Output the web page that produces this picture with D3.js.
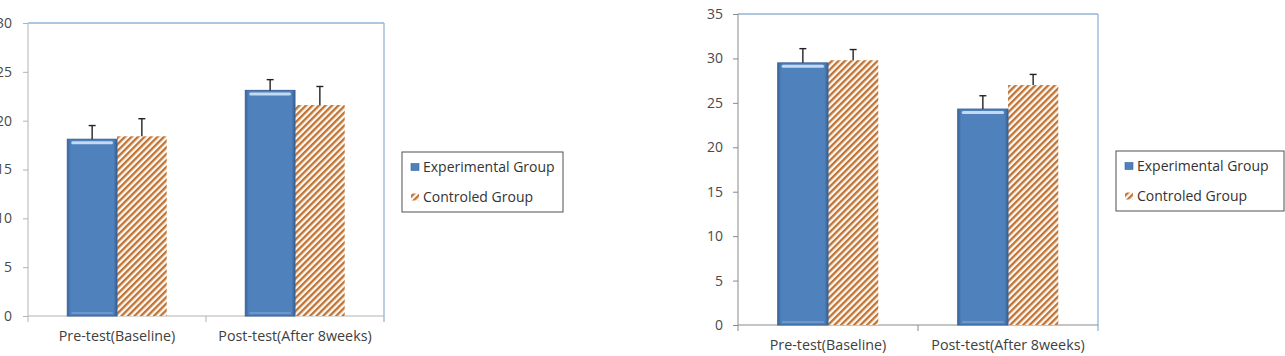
<!DOCTYPE html>
<html>
<head>
<meta charset="utf-8">
<script src="https://cdn.jsdelivr.net/npm/d3@7/dist/d3.min.js"></script>
<style>
  html, body { margin: 0; padding: 0; background: #fff; }
  svg { display: block; }
  text { font-family: "Open Sans", "Liberation Sans", sans-serif; }
</style>
</head>
<body>
<svg id="chart" width="1285" height="356"></svg>
<script>
// ---- data ----
const categories = ["Pre-test(Baseline)", "Post-test(After 8weeks)"];
const seriesNames = ["Experimental Group", "Controled Group"];

const leftExperimental = [18.1, 23.1];
const leftExperimentalErr = [1.4, 1.1];
const leftControlled = [18.4, 21.6];
const leftControlledErr = [1.8, 1.9];
const leftTicks = [0, 5, 10, 15, 20, 25, 30];

const rightExperimental = [29.5, 24.3];
const rightExperimentalErr = [1.6, 1.5];
const rightControlled = [29.8, 27.0];
const rightControlledErr = [1.2, 1.2];
const rightTicks = [0, 5, 10, 15, 20, 25, 30, 35];

const svg = d3.select("#chart");
const defs = svg.append("defs");

// blue bevel gradient
const g1 = defs.append("linearGradient").attr("id", "blueGrad").attr("x1", 0).attr("x2", 1).attr("y1", 0).attr("y2", 0);
[[0, "#3a659c"], [0.07, "#4f81bd"], [0.93, "#4f81bd"], [1, "#36608f"]].forEach(s =>
  g1.append("stop").attr("offset", s[0]).attr("stop-color", s[1]));

// hatch pattern
const pat = defs.append("pattern").attr("id", "hatch").attr("patternUnits", "userSpaceOnUse")
  .attr("width", 4.6).attr("height", 4.6).attr("patternTransform", "rotate(45)");
pat.append("rect").attr("width", 4.6).attr("height", 4.6).attr("fill", "#fdf8f2");
pat.append("rect").attr("width", 2.3).attr("height", 4.6).attr("fill", "#bf7436");

function drawChart(opt) {
  const g = svg.append("g");
  const x = d3.scaleBand().domain(categories).range([opt.left, opt.right]).paddingInner(0).paddingOuter(0);
  const y = d3.scaleLinear().domain([0, opt.max]).range([opt.bottom, opt.top]);
  const xs = d3.scaleBand().domain(seriesNames).range([0, x.bandwidth()]).paddingInner(0).paddingOuter(0.79);

  // frame top/right
  g.append("line").attr("x1", opt.left).attr("x2", opt.right).attr("y1", opt.top).attr("y2", opt.top)
    .attr("stroke", "#95b3d7").attr("stroke-width", 1.3);
  g.append("line").attr("x1", opt.right).attr("x2", opt.right).attr("y1", opt.top).attr("y2", opt.bottom + 6)
    .attr("stroke", "#95b3d7").attr("stroke-width", 1.3);

  // y axis
  const ya = g.append("g").attr("transform", `translate(${opt.left},0)`)
    .call(d3.axisLeft(y).tickValues(opt.ticks).tickSize(5).tickPadding(opt.tickPad).tickSizeOuter(0));
  ya.select(".domain").remove();
  ya.selectAll(".tick line").attr("stroke", opt.axisColor);
  ya.selectAll(".tick text").attr("fill", "#4a4a4a").style("font-size", "14px")
    .style("font-family", "'Open Sans', sans-serif");
  g.append("line").attr("x1", opt.left).attr("x2", opt.left).attr("y1", opt.top).attr("y2", opt.bottom + 6)
    .attr("stroke", opt.axisColor);

  // x axis
  g.append("line").attr("x1", opt.left).attr("x2", opt.right).attr("y1", opt.bottom).attr("y2", opt.bottom)
    .attr("stroke", opt.axisColor);
  categories.slice(1).forEach(c => {
    g.append("line").attr("x1", x(c)).attr("x2", x(c)).attr("y1", opt.bottom).attr("y2", opt.bottom + 6)
      .attr("stroke", opt.axisColor);
  });
  const xa = g.append("g").attr("transform", `translate(0,${opt.bottom})`)
    .call(d3.axisBottom(x).tickSize(0).tickPadding(15));
  xa.select(".domain").remove();
  xa.selectAll(".tick text").attr("fill", "#404040").style("font-size", "14.3px")
    .style("font-family", "'Open Sans', sans-serif");

  // bars
  categories.forEach((c, i) => {
    const bx = x(c) + xs(seriesNames[0]);
    const bw = xs.bandwidth();
    const vy = y(opt.exp[i]);
    const cx = x(c) + xs(seriesNames[1]);
    const cy = y(opt.ctrl[i]);
    g.append("rect").attr("x", cx).attr("y", cy).attr("width", bw).attr("height", y(0) - cy)
      .attr("fill", "url(#hatch)");
    g.append("rect").attr("x", bx).attr("y", vy).attr("width", bw).attr("height", y(0) - vy)
      .attr("fill", "url(#blueGrad)").attr("stroke", "#3b6397").attr("stroke-width", 1);
    g.append("rect").attr("x", bx + 4).attr("y", vy + 2).attr("width", bw - 8).attr("height", 3)
      .attr("rx", 1.5).attr("fill", "#c4daf3");
    g.append("rect").attr("x", bx + 4).attr("y", y(0) - 4).attr("width", bw - 8).attr("height", 2)
      .attr("rx", 1).attr("fill", "#7aa0d2").attr("opacity", 0.7);

    [[bx, opt.exp[i], opt.expErr[i]], [cx, opt.ctrl[i], opt.ctrlErr[i]]].forEach(([xx, v, e]) => {
      const mx = xx + bw / 2;
      g.append("line").attr("x1", mx).attr("x2", mx).attr("y1", y(v)).attr("y2", y(v + e))
        .attr("stroke", "#222").attr("stroke-width", 1.4);
      g.append("line").attr("x1", mx - 3.5).attr("x2", mx + 3.5).attr("y1", y(v + e)).attr("y2", y(v + e))
        .attr("stroke", "#222").attr("stroke-width", 1.4);
    });
  });

  // legend
  const lg = g.append("g").attr("transform", `translate(${opt.legX},${opt.legY})`);
  lg.append("rect").attr("x", 0).attr("y", 0).attr("width", opt.legW).attr("height", 60)
    .attr("fill", "#fff").attr("stroke", "#505050").attr("stroke-width", 1);
  seriesNames.forEach((s, i) => {
    const yy = 15 + i * 30;
    lg.append("rect").attr("x", 9).attr("y", yy - 3.5).attr("width", 8).attr("height", 7)
      .attr("fill", i === 0 ? "#4f81bd" : "url(#hatch)")
      .attr("stroke", i === 0 ? "#3b6397" : "none").attr("stroke-width", 0.6);
    lg.append("text").attr("x", 21).attr("y", yy).attr("dy", "0.35em").attr("fill", "#333")
      .style("font-size", "14px").text(s);
  });
}

drawChart({
  left: 28, right: 384, top: 23, bottom: 316, max: 30, ticks: leftTicks, tickPad: 11,
  axisColor: "#b3b3b3",
  exp: leftExperimental, expErr: leftExperimentalErr, ctrl: leftControlled, ctrlErr: leftControlledErr,
  legX: 402, legY: 152, legW: 161
});
drawChart({
  left: 738, right: 1098, top: 14, bottom: 325, max: 35, ticks: rightTicks, tickPad: 10,
  axisColor: "#8a8a8a",
  exp: rightExperimental, expErr: rightExperimentalErr, ctrl: rightControlled, ctrlErr: rightControlledErr,
  legX: 1116, legY: 151, legW: 168
});
</script>
</body>
</html>
